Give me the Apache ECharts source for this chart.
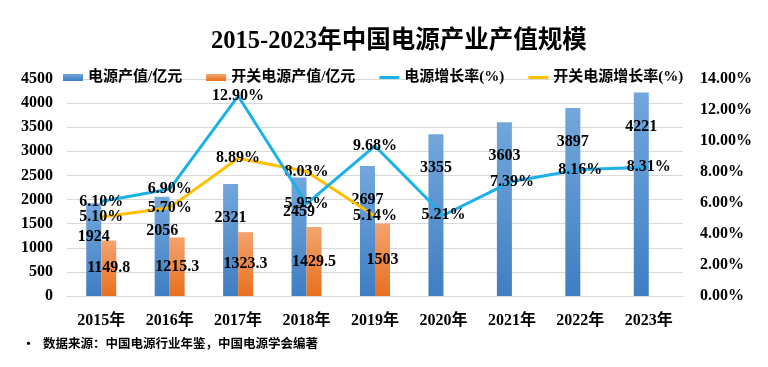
<!DOCTYPE html>
<html>
<head>
<meta charset="utf-8">
<script src="https://cdn.jsdelivr.net/npm/echarts@6/dist/echarts.min.js"></script>
<style>html,body{margin:0;padding:0;background:#fff}#c{width:768px;height:367px}</style>
</head>
<body>
<div id="c"></div>
<script>
const years = ['2015年','2016年','2017年','2018年','2019年','2020年','2021年','2022年','2023年'];
const powerOutput = [1924, 2056, 2321, 2459, 2697, 3355, 3603, 3897, 4221];
const switchOutput = [1149.8, 1215.3, 1323.3, 1429.5, 1503, null, null, null, null];
const powerGrowth = [6.10, 6.90, 12.90, 5.95, 9.68, 5.21, 7.39, 8.16, 8.31];
const switchGrowth = [5.10, 5.70, 8.89, 8.03, 5.14, null, null, null, null];

const serif = "'Times New Roman','Liberation Serif','Noto Sans CJK SC'";
const sans = "'Liberation Serif','Noto Sans CJK SC'";
const chart = echarts.init(document.getElementById('c'));
const lblStyle = {fontFamily: serif, fontWeight: 'bold', fontSize: 16, color: '#000'};
chart.setOption({
  animation: false,
  backgroundColor: '#fff',
  title: {
    text: '2015-2023年中国电源产业产值规模',
    left: 206, top: 24,
    textStyle: {fontFamily: serif, fontWeight: 'bold', fontSize: 24.5, color: '#000'}
  },
  legend: {
    left: 58, top: 65, itemWidth: 20, itemHeight: 7, itemGap: 24,
    textStyle: {fontFamily: sans, fontWeight: 'bold', fontSize: 15, color: '#000'},
    data: [
      {name: '电源产值/亿元', icon: 'rect'},
      {name: '开关电源产值/亿元', icon: 'rect'},
      {name: '电源增长率(%)', icon: 'path://M0,0 L20,0 L20,3 L0,3 Z'},
      {name: '开关电源增长率(%)', icon: 'path://M0,0 L20,0 L20,3 L0,3 Z'}
    ]
  },
  grid: {left: 67, right: 85, top: 79, bottom: 71},
  xAxis: {
    type: 'category', data: years,
    axisTick: {show: false},
    axisLine: {lineStyle: {color: '#D9D9D9'}},
    axisLabel: {margin: 17, fontFamily: serif, fontWeight: 'bold', fontSize: 16, color: '#000'}
  },
  yAxis: [{
    type: 'value', min: 0, max: 4500, interval: 500,
    axisLabel: {margin: 14, fontFamily: serif, fontWeight: 'bold', fontSize: 16, color: '#000',
      formatter: v => String(v)},
    splitLine: {lineStyle: {color: '#D9D9D9'}}
  }, {
    type: 'value', min: 0, max: 14, interval: 2,
    axisLabel: {margin: 17, fontFamily: serif, fontWeight: 'bold', fontSize: 16, color: '#000',
      formatter: v => v.toFixed(2) + '%'},
    splitLine: {show: false}
  }],
  series: [{
    name: '电源产值/亿元', type: 'bar', data: powerOutput,
    barWidth: 15, barGap: '0%',
    itemStyle: {color: new echarts.graphic.LinearGradient(0, 0, 0, 1, [
      {offset: 0, color: '#73A7DC'}, {offset: 1, color: '#3F7EC3'}])},
    label: Object.assign({show: true, position: 'insideTop', distance: 26}, lblStyle)
  }, {
    name: '开关电源产值/亿元', type: 'bar', data: switchOutput,
    barWidth: 15,
    itemStyle: {color: new echarts.graphic.LinearGradient(0, 0, 0, 1, [
      {offset: 0, color: '#F4A46E'}, {offset: 1, color: '#E8701E'}])},
    label: Object.assign({show: true, position: 'inside'}, lblStyle)
  }, {
    name: '电源增长率(%)', type: 'line', yAxisIndex: 1, data: powerGrowth,
    symbol: 'circle', symbolSize: 0.1,
    lineStyle: {width: 3, color: '#1AB1E8'}, itemStyle: {color: '#1AB1E8'},
    label: Object.assign({show: true, position: 'inside', formatter: p => p.value.toFixed(2) + '%'}, lblStyle),
    z: 5
  }, {
    name: '开关电源增长率(%)', type: 'line', yAxisIndex: 1, data: switchGrowth,
    symbol: 'circle', symbolSize: 0.1,
    lineStyle: {width: 3, color: '#FFC000'}, itemStyle: {color: '#FFC000'},
    label: Object.assign({show: true, position: 'inside', formatter: p => p.value.toFixed(2) + '%'}, lblStyle),
    z: 4
  }],
  graphic: [{
    type: 'text', left: 22, top: 337,
    style: {text: '•', font: "bold 13px 'Noto Sans CJK SC'", fill: '#000'}
  }, {
    type: 'text', left: 43, top: 337,
    style: {text: '数据来源：中国电源行业年鉴，中国电源学会编著', font: "bold 12.5px 'Noto Sans CJK SC'", fill: '#000'}
  }]
});
</script>
</body>
</html>
